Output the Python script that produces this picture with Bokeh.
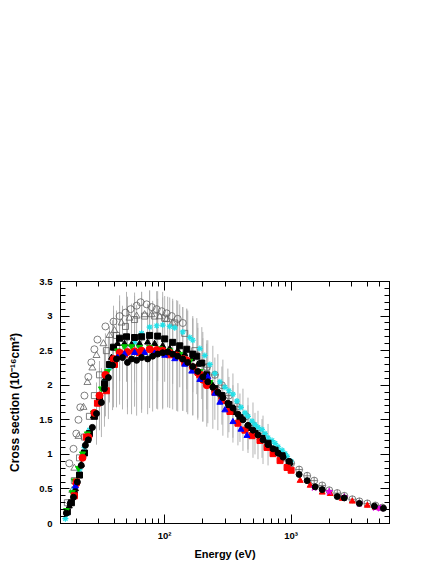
from bokeh.plotting import figure
from bokeh.models import LogAxis, LinearAxis, FixedTicker, LogTicker, CustomJSTickFormatter, Range1d
from bokeh.embed import file_html
from bokeh.resources import INLINE

# ---------------- data (energy in eV, cross section in 1e-16 cm^2) ----------------
y_ticks = [0, 0.5, 1, 1.5, 2, 2.5, 3, 3.5]
y_minor = [round(0.1 * i, 1) for i in range(36)]

e_open_circ = [17.6, 19.0, 20.0, 20.8, 21.5, 23.2, 24.9, 26.3, 27.8, 29.4, 34.0, 39.4, 44.0, 49.0,
               53.7, 60.0, 64.5, 72.0, 78.9, 86.4, 94.7, 103.7, 113.6, 126.8, 139.0]
v_open_circ = [0.87, 1.08, 1.30, 1.50, 1.68, 1.85, 2.12, 2.33, 2.52, 2.66, 2.85, 2.92, 3.00, 3.05,
               3.10, 3.15, 3.20, 3.17, 3.13, 3.10, 3.07, 3.04, 3.00, 2.96, 2.90]

e_open_tri = [18.6, 19.3, 20.8, 22.8, 24.5, 26.8, 28.9, 32.8, 36.6, 40.1, 45.6, 52.7, 60.0, 69.4,
              78.9, 91.3, 103.7, 115.7]
v_open_tri = [0.48, 0.80, 1.26, 1.68, 2.04, 2.25, 2.43, 2.60, 2.72, 2.79, 2.90, 2.97, 3.00, 3.02,
              3.02, 2.99, 2.95, 2.90]

e_open_sq = [17.0, 19.3, 21.2, 23.2, 25.4, 27.8, 30.5, 34.6, 41.6, 49.0, 57.8, 69.4, 83.3, 100.0,
             120.1, 144.1, 173.0, 215.4]
v_open_sq = [0.30, 0.62, 0.95, 1.25, 1.55, 1.85, 2.15, 2.50, 2.72, 2.85, 2.95, 3.00, 3.00, 2.97,
             2.90, 2.75, 2.50, 2.26]

e_gray_cx = [215.4, 249.4, 283.5, 322.2, 372.8, 439.5, 499.5, 567.5, 657.0, 760.3, 864.2, 1000,
             1157, 1340, 1522, 1762, 2002, 2318, 2634, 3049, 3465, 4010, 4642, 5270]
v_gray_cx = [2.26, 2.15, 2.00, 1.85, 1.69, 1.55, 1.42, 1.30, 1.17, 1.04, 0.95, 0.87,
             0.78, 0.69, 0.62, 0.55, 0.48, 0.44, 0.40, 0.35, 0.32, 0.29, 0.26, 0.23]

e_cyan = [16.4, 17.0, 17.9, 19.3, 21.2, 23.2, 25.4, 27.8, 30.5, 33.4, 36.6, 38.7, 44.0, 49.9, 57.8,
          65.7, 76.0, 86.4, 96.4, 109.6, 120.1, 139.0, 157.9, 166.8, 189.6, 207.7, 227.6, 249.4,
          273.3, 299.5, 322.2, 346.6, 372.8, 401.1, 431.3, 456.0, 490.3, 518.0, 547.1, 588.6,
          621.8, 657.0, 706.7, 746.5, 788.6, 848.3, 896.4, 929.4, 1000]
v_cyan = [0.07, 0.14, 0.30, 0.50, 0.78, 1.10, 1.35, 1.60, 1.85, 2.05, 2.25, 2.32, 2.42, 2.47, 2.62,
          2.75, 2.84, 2.86, 2.87, 2.85, 2.83, 2.77, 2.69, 2.65, 2.53, 2.43, 2.30, 2.17,
          2.05, 1.97, 1.92, 1.87, 1.77, 1.68, 1.60, 1.55, 1.48, 1.43, 1.39, 1.36,
          1.30, 1.24, 1.20, 1.16, 1.11, 1.06, 1.01, 0.97, 0.90]

e_black_sq = [17.0, 18.3, 19.3, 21.2, 23.2, 25.4, 27.8, 30.5, 33.4, 36.6, 39.4, 44.0, 49.9, 57.8,
              65.7, 76.0, 88.0, 100.0, 115.7, 131.5, 149.5, 166.8, 179.5, 196.7, 215.4, 249.4,
              283.5, 322.2, 346.6, 393.8, 456.0, 518.0, 588.6, 657.0, 746.5, 848.3, 964.0]
v_black_sq = [0.17, 0.30, 0.42, 0.70, 1.02, 1.30, 1.55, 1.80, 2.02, 2.30, 2.55, 2.68, 2.70, 2.69,
              2.70, 2.72, 2.71, 2.67, 2.62, 2.57, 2.52, 2.45, 2.42, 2.32, 2.15, 1.95,
              1.85, 1.72, 1.62, 1.53, 1.39, 1.30, 1.23, 1.16, 1.06, 0.98, 0.88]
err_black_sq = [0, 0, 0, 0, 0, 0, 0, 0.45, 0.5, 0.55, 0.6, 0.62, 0.65, 0.65,
                0.65, 0.65, 0.65, 0.62, 0.6, 0.6, 0.58, 0.55, 0.55, 0.52, 0.5, 0.45,
                0.42, 0.4, 0.38, 0.35, 0.32, 0.3, 0.28, 0, 0, 0, 0]

e_black_tri = [17.6, 19.7, 21.9, 24.5, 27.3, 30.5, 34.0, 38.0, 42.4, 48.1, 54.7, 63.3, 73.3, 83.3,
               96.4, 109.6, 126.8, 144.1, 163.8, 182.8, 207.7, 236.0, 273.3, 328.2, 393.8, 472.9,
               567.5, 681.3, 817.9, 981.9]
v_black_tri = [0.25, 0.50, 0.85, 1.20, 1.55, 1.85, 2.10, 2.40, 2.60, 2.60, 2.59, 2.60, 2.62, 2.60,
               2.57, 2.53, 2.50, 2.45, 2.38, 2.30, 2.15, 2.02, 1.87, 1.68, 1.50, 1.37,
               1.24, 1.12, 1.00, 0.88]

e_green = [16.7, 18.6, 19.3, 20.8, 22.4, 24.5, 27.3, 31.6, 35.3, 42.4, 48.1, 54.7, 63.3, 76.0,
           91.3, 109.6, 131.5, 157.9, 189.6, 227.6]
v_green = [0.19, 0.45, 0.62, 0.80, 1.01, 1.30, 1.60, 1.95, 2.20, 2.50, 2.56, 2.56, 2.55, 2.55,
           2.53, 2.50, 2.45, 2.35, 2.20, 2.04]

e_red_circ = [20.0, 22.4, 24.9, 27.8, 30.5, 34.0, 39.4, 44.0, 50.8, 57.8, 65.7, 76.0, 86.4, 96.4,
              109.6, 124.5, 139.0, 149.5, 166.8, 182.8, 200.3, 215.4]
v_red_circ = [0.58, 0.95, 1.25, 1.60, 1.85, 2.15, 2.38, 2.47, 2.48, 2.49, 2.50, 2.52, 2.51, 2.50,
              2.47, 2.43, 2.38, 2.36, 2.26, 2.18, 2.08, 2.00]
err_red_circ = [0, 0, 0, 0, 0.5, 0.6, 0.7, 0.75, 0.8, 0.8, 0.85, 0.85, 0.85, 0.85,
                0.8, 0.8, 0.75, 0.75, 0.7, 0.65, 0.6, 0.6]

e_red_sq = [19.3, 20.0, 24.0, 29.4, 34.6, 40.1, 48.1, 63.3, 83.3, 109.6, 144.1, 189.6, 215.4,
            249.4, 283.5, 328.2, 379.6, 431.3, 490.3, 567.5, 645.0, 719.7, 817.9, 929.4, 1000]
v_red_sq = [0.40, 0.60, 1.25, 1.74, 1.92, 2.30, 2.45, 2.47, 2.48, 2.44, 2.33, 2.15, 2.07,
            1.90, 1.78, 1.62, 1.45, 1.35, 1.27, 1.20, 1.10, 1.01, 0.91, 0.81, 0.77]

e_blue_tri = [19.7, 42.4, 48.1, 57.8, 69.4, 83.3, 100.0, 120.1, 144.1, 163.8, 189.6, 219.4, 249.4,
              273.3, 299.5, 346.6, 401.1, 447.7]
v_blue_tri = [0.54, 2.40, 2.45, 2.47, 2.47, 2.46, 2.43, 2.38, 2.30, 2.20, 2.08, 2.12, 1.88,
              1.75, 1.64, 1.47, 1.36, 1.27]

e_black_circ = [16.7, 17.9, 19.0, 20.4, 21.9, 23.6, 24.9, 26.8, 28.9, 31.6, 33.4, 35.9, 38.7, 41.6,
                46.4, 50.8, 54.7, 60.0, 65.7, 73.3, 80.3, 88.0, 96.4, 105.6, 115.7, 126.8, 139.0,
                152.2, 166.8, 182.8, 200.3, 219.4, 240.4, 263.4, 288.6, 316.2, 346.6, 379.6,
                415.9, 456.0, 499.5, 547.1, 599.5, 657.0, 719.7, 788.6, 864.2, 964.0]
v_black_circ = [0.15, 0.29, 0.38, 0.60, 0.84, 1.13, 1.21, 1.39, 1.59, 1.75, 1.95, 2.11, 2.29, 2.38,
                2.40, 2.33, 2.38, 2.36, 2.40, 2.38, 2.42, 2.45, 2.47, 2.48, 2.45, 2.42, 2.38,
                2.33, 2.27, 2.20, 2.12, 2.05, 1.97, 1.90, 1.82, 1.74, 1.67, 1.58,
                1.50, 1.42, 1.35, 1.28, 1.21, 1.14, 1.08, 1.02, 0.96, 0.90]
err_black_circ = [0, 0, 0, 0, 0, 0, 0, 0, 0.45, 0.5, 0.55, 0.6, 0.65, 0.7,
                  0.75, 0.75, 0.8, 0.8, 0.8, 0.8, 0.8, 0.8, 0.8, 0.8, 0.8, 0.8, 0.75,
                  0.75, 0.7, 0.7, 0.65, 0.6, 0.6, 0.55, 0.55, 0.5, 0.5, 0.45,
                  0.45, 0.4, 0.4, 0.35, 0.35, 0.3, 0, 0, 0, 0]

e_black_circ_he = [1157, 1340, 1551, 1762, 2318, 2634, 3465, 4557, 5373]
v_black_circ_he = [0.71, 0.62, 0.53, 0.49, 0.39, 0.37, 0.29, 0.25, 0.22]

e_red_tri_he = [1179, 1415, 1762, 2040, 2540, 3049, 4010, 4642]
v_red_tri_he = [0.62, 0.55, 0.45, 0.43, 0.36, 0.32, 0.26, 0.23]

e_magenta = [1522, 2002, 2634, 3465, 4642, 5085]
v_magenta = [0.52, 0.46, 0.38, 0.29, 0.23, 0.22]

# ---------------- figure ----------------
FONT = "Liberation Sans"
p = figure(width=436, height=564, x_axis_type="log",
           x_range=Range1d(15, 6000), y_range=Range1d(0, 3.5),
           output_backend="svg", toolbar_location=None,
           min_border_left=60, min_border_right=47, min_border_top=281, min_border_bottom=41)
p.grid.visible = False
p.outline_line_color = "black"
p.background_fill_color = "white"
p.border_fill_color = "white"

# error bars (drawn first, behind markers)
def bars(es, vs, errs):
    xs = [e for e, er in zip(es, errs) if er > 0]
    lo = [v - er for v, er in zip(vs, errs) if er > 0]
    hi = [v + er for v, er in zip(vs, errs) if er > 0]
    p.segment(x0=xs, y0=lo, x1=xs, y1=hi, line_color="#ababab", line_width=0.9)

bars(e_black_circ, v_black_circ, err_black_circ)
bars(e_red_circ, v_red_circ, err_red_circ)
bars(e_black_sq, v_black_sq, err_black_sq)

gray = "#606060"
p.scatter(e_open_circ, v_open_circ, marker="circle", size=7, fill_color=None, line_color=gray, line_width=0.8)
p.scatter(e_open_tri, v_open_tri, marker="triangle", size=7, fill_color=None, line_color=gray, line_width=0.8)
p.scatter(e_open_sq, v_open_sq, marker="square", size=6, fill_color=None, line_color=gray, line_width=0.8)
p.scatter(e_gray_cx, v_gray_cx, marker="circle_cross", size=7, fill_color=None, line_color=gray, line_width=0.8)

p.scatter(e_cyan, v_cyan, marker="asterisk", size=6, line_color="#22e0e8", line_width=1.2)
p.scatter(e_black_sq, v_black_sq, marker="square", size=6, color="black")
p.scatter(e_black_tri, v_black_tri, marker="triangle", size=6, color="black")
p.scatter(e_green, v_green, marker="inverted_triangle", size=6, color="#00c800")
p.scatter(e_red_sq, v_red_sq, marker="square", size=6, color="red")
p.scatter(e_red_circ, v_red_circ, marker="circle", size=7, color="red")
p.scatter(e_blue_tri, v_blue_tri, marker="triangle", size=6, color="blue")
p.scatter(e_black_circ, v_black_circ, marker="circle", size=6, color="black")
p.scatter(e_red_tri_he, v_red_tri_he, marker="triangle", size=6, color="red")
p.scatter(e_magenta, v_magenta, marker="star", size=7, color="#e000e0")
p.scatter(e_black_circ_he, v_black_circ_he, marker="circle", size=6, color="black")

# ---------------- axes ----------------
ytick = FixedTicker(ticks=y_ticks, minor_ticks=y_minor)
yfmt = CustomJSTickFormatter(code="return String(tick);")
xfmt = CustomJSTickFormatter(code="""
const e = Math.round(Math.log10(tick));
const sup = {1: '\u00b9', 2: '\u00b2', 3: '\u00b3', 4: '\u2074'};
return '10' + sup[e];
""")

def style(ax, show):
    ax.major_tick_in = 9
    ax.major_tick_out = 0
    ax.minor_tick_in = 5
    ax.minor_tick_out = 0
    ax.axis_line_color = "black"
    ax.major_tick_line_color = "black"
    ax.minor_tick_line_color = "black"
    ax.major_label_text_font = FONT
    ax.major_label_text_font_style = "bold"
    ax.major_label_text_font_size = "9.5px"
    ax.major_label_text_color = "black"
    ax.axis_label_text_font = FONT
    ax.axis_label_text_font_style = "bold"
    ax.axis_label_text_font_size = "11px"
    ax.axis_label_text_color = "black"
    if not show:
        ax.major_label_text_alpha = 0

xa = p.xaxis[0]
xa.ticker = LogTicker(num_minor_ticks=10)
xa.formatter = xfmt
xa.axis_label = "Energy (eV)"
style(xa, True)
xa.major_label_standoff = 6
xa.axis_label_standoff = 4

ya = p.yaxis[0]
ya.ticker = ytick
ya.formatter = yfmt
ya.axis_label = "Cross section (10\u207b\u00b9\u2076cm\u00b2)"
style(ya, True)
ya.axis_label_text_font_size = "12px"
ya.major_label_standoff = 8
ya.axis_label_standoff = 14

top = LogAxis(ticker=LogTicker(num_minor_ticks=10), formatter=xfmt)
style(top, False)
p.add_layout(top, "above")

right = LinearAxis(ticker=FixedTicker(ticks=y_ticks, minor_ticks=y_minor), formatter=yfmt)
style(right, False)
p.add_layout(right, "right")

open("out.html", "w").write(file_html(p, INLINE))
